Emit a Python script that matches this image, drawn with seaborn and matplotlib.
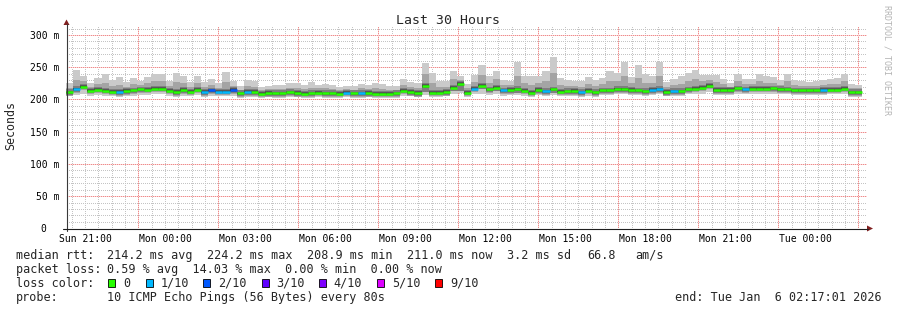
import numpy as np
import pandas as pd
import matplotlib
matplotlib.use("Agg")
import matplotlib.pyplot as plt
import seaborn as sns
from matplotlib.patches import Rectangle, Polygon
from matplotlib.lines import Line2D

# ---------------- data (16-minute bins) ----------------
median_ms = [211, 216, 219.5, 213.5, 215, 213.5, 212, 211.5, 213, 214,
             215.5, 215, 216.5, 216.5, 213.5, 211.5, 214.5, 212, 215, 211.5,
             214, 212, 212, 214.5, 209.5, 211.5, 211.5, 209, 210, 209.5,
             209.5, 211, 210, 209, 209.5, 210.5, 209.5, 209.5, 209, 210.5,
             209.5, 209.5, 210, 209, 209, 209, 209.5, 213.5, 211.5, 210,
             221, 210.5, 210.5, 211.5, 218.5, 224, 210.5, 216.5, 221.5, 215.5,
             218.5, 214, 214.5, 216, 213.5, 210.5, 214.5, 212.5, 215.5, 212,
             212.5, 213, 211, 213.5, 211, 214, 214, 216, 216, 214.5,
             214, 212.5, 214.5, 216, 211.5, 212.5, 212.5, 215.5, 216.5, 218,
             221, 214.5, 214.5, 214.5, 217, 215.5, 216.5, 216.5, 216.5, 217,
             216, 215.5, 214, 214, 214, 214, 214.5, 215, 215, 216.5,
             211, 211]

loss_level = [0, 1, 0, 0, 0, 0, 0, 1, 0, 0,
              0, 0, 0, 0, 0, 0, 0, 0, 0, 1,
              2, 1, 1, 2, 0, 1, 0, 0, 0, 0,
              0, 0, 0, 0, 0, 0, 0, 0, 0, 1,
              0, 1, 0, 0, 0, 0, 0, 0, 0, 0,
              0, 0, 0, 0, 0, 0, 0, 1, 0, 0,
              0, 1, 0, 0, 0, 0, 0, 1, 0, 0,
              0, 0, 1, 0, 0, 0, 0, 0, 0, 0,
              0, 0, 1, 1, 0, 1, 0, 0, 0, 0,
              0, 0, 0, 0, 0, 1, 0, 0, 0, 0,
              0, 0, 0, 0, 0, 0, 1, 0, 0, 0,
              0, 0]

smoke_max = [225, 245.5, 237, 226, 233, 239, 230, 235, 227.5, 234,
             229, 235, 239, 239, 228.5, 241.5, 236, 227.5, 237, 226.5,
             232, 225, 242.5, 228.5, 221, 230, 229, 219, 221, 223,
             223, 225, 225.5, 223, 227, 223, 224, 222, 219, 221,
             221, 224, 222, 225, 224, 221, 221, 231.5, 227.5, 226,
             257, 241.5, 229, 229, 244.5, 236, 224, 238.5, 254, 236,
             244, 230, 229, 258.5, 236, 236, 236, 244.5, 266, 234,
             230, 229, 228, 235, 230, 233, 244, 240.5, 258, 235,
             253, 240, 236, 258, 227.5, 231, 236, 241.5, 245.5, 238.5,
             238.5, 238.5, 232.5, 225, 239, 232, 232, 240, 236, 235,
             230, 240, 230, 228.5, 227, 228, 230, 232.5, 233, 240,
             224, 223]

smoke_q2 = [218, 230.5, 228, 220, 224, 226, 221, 223, 220, 224,
            222, 225, 228, 228, 221, 226.5, 225, 220, 226, 219,
            223, 218.5, 227, 221.5, 215, 221, 220, 214, 215.5, 216,
            216, 218, 218, 216, 218, 217, 217, 216, 214, 216,
            215, 217, 216, 217, 216.5, 215, 215, 222.5, 219.5, 218,
            239, 226, 220, 220, 231.5, 230, 217, 227.5, 238, 226,
            231, 222, 222, 237, 225, 223, 225, 228.5, 241, 223,
            221, 221, 219.5, 224, 220.5, 223.5, 229, 228, 237, 225,
            233.5, 226, 225, 237, 219.5, 222, 224, 228.5, 231, 228,
            230, 226.5, 223.5, 220, 228, 224, 224, 228, 226, 226,
            223, 228, 222, 221, 220.5, 221, 222, 224, 224, 228,
            217.5, 217]

smoke_min = [205, 207, 209, 206, 207, 206, 205, 204, 206, 206,
             207, 207, 208, 208, 206, 204, 206, 205, 207, 204,
             206, 205, 205, 206, 203, 204, 204, 203, 204, 203,
             203, 204, 204, 203, 203, 204, 203, 203, 203, 204,
             203, 203, 204, 203, 203, 203, 203, 206, 205, 204,
             207, 204, 204, 205, 208, 210, 204, 208, 209, 207,
             208, 206, 207, 207, 206, 204, 207, 205, 207, 205,
             205, 206, 204, 206, 204, 207, 207, 208, 208, 207,
             207, 205, 207, 208, 205, 205, 205, 208, 208, 209,
             211, 207, 207, 207, 209, 208, 208, 208, 208, 209,
             208, 208, 207, 207, 207, 207, 207, 208, 208, 208,
             204, 204]

# depth (ms below the median) of the dark inner smoke
dark_depth = [4] * 50 + [9, 4, 4, 4, 6, 11, 4, 4, 5, 4,
                         5, 4, 4, 6, 4, 4, 4, 4, 5, 4] + [4] * 42

loss_labels = ["0", "1/10", "2/10", "3/10", "4/10", "5/10", "9/10"]
loss_colors = ["#26ff00", "#00b8ff", "#0059ff", "#5e00ff", "#7e00ff", "#dd00ff", "#ff0000"]

x_labels = ["Sun 21:00", "Mon 00:00", "Mon 03:00", "Mon 06:00", "Mon 09:00",
            "Mon 12:00", "Mon 15:00", "Mon 18:00", "Mon 21:00", "Tue 00:00"]
y_ticks = [0, 50, 100, 150, 200, 250, 300]
y_labels = ["0  ", "50 m", "100 m", "150 m", "200 m", "250 m", "300 m"]

# ---------------- layout helpers ----------------
W, H = 897, 310
X0, X1 = 66, 866          # plot area, pixels
Y0, YTOP = 228.3, 26.0    # y pixel of 0 ms, top of plot
YMAX = 314.0
start = pd.Timestamp("2026-01-04 20:17:01")
bin_h = 960 / 3600.0
n = len(median_ms)

def hours(ts):
    return (pd.Timestamp(ts) - start).total_seconds() / 3600.0

def fx(px):
    return px / W

def fy(py):
    return 1 - py / H

sns.set_theme(style="white")
plt.rcParams["font.family"] = ["DejaVu Sans Mono", "DejaVu Sans"]

fig = plt.figure(figsize=(W / 100, H / 100), dpi=100)
fig.patch.set_facecolor("white")
ax = fig.add_axes([fx(X0), fy(Y0), (X1 - X0) / W, (Y0 - YTOP) / H])
ax.patch.set_visible(False)
ax.set_xlim(0, 30)
ax.set_ylim(0, YMAX)
for s in ax.spines.values():
    s.set_visible(False)

# ---------------- grid: 1px dotted lines rendered as a pixel layer ----------------
px_per_h = (X1 - X0) / 30.0
px_per_ms = (Y0 - YTOP) / YMAX
grid = np.zeros((H, W, 4), dtype=np.uint8)
minor_col = np.array([196, 196, 196, 255], dtype=np.uint8)
major_col = np.array([238, 140, 140, 255], dtype=np.uint8)
major_gap = np.array([250, 214, 214, 255], dtype=np.uint8)

def vline(h, col, gap=None):
    xp = int(round(X0 + h * px_per_h))
    for i, yp in enumerate(range(int(YTOP) + 1, int(Y0))):
        if i % 2 == 0:
            grid[yp, xp] = col
        elif gap is not None:
            grid[yp, xp] = gap

def hline(v, col, gap=None):
    yp = int(round(Y0 - v * px_per_ms))
    for i, xp in enumerate(range(X0 + 1, X1 + 1)):
        if i % 2 == 0:
            grid[yp, xp] = col
        elif gap is not None:
            grid[yp, xp] = gap

for h in np.arange(hours("2026-01-04 20:30:00"), 30, 0.5):
    vline(h, minor_col)
for v in range(10, int(YMAX), 10):
    hline(v, minor_col)
for h in np.arange(hours("2026-01-04 23:00:00"), 30, 3.0):
    vline(h, major_col, major_gap)
for v in range(50, int(YMAX), 50):
    hline(v, major_col, major_gap)
fig.figimage(grid, xo=0, yo=0, origin="upper", zorder=-1)

# ---------------- smoke ----------------
med = np.array(median_ms, dtype=float)
xl = np.arange(n) * bin_h
xs = np.append(xl, xl[-1] + bin_h)

def ext(a):
    a = np.asarray(a, dtype=float)
    return np.append(a, a[-1])

depth = np.array(dark_depth, dtype=float)
layers = [
    (smoke_min, smoke_max, "#cacaca"),
    (med - 5.5, smoke_q2, "#a4a4a4"),
    (med - depth, med + 4.5, "#7e7e7e"),
    (med - 2.5, med + 2.5, "#585858"),
    (med - 1.0, med + 1.0, "#323232"),
]
for lo, hi, col in layers:
    ax.fill_between(xs, ext(lo), ext(hi), step="post", color=col, lw=0, zorder=2)

# ---------------- median, coloured by loss (seaborn) ----------------
rows = []
for k in range(n):
    lab = loss_labels[loss_level[k]]
    rows.append({"unit": k, "t": xl[k], "ms": med[k], "loss": lab})
    rows.append({"unit": k, "t": xl[k] + bin_h, "ms": med[k], "loss": lab})
df = pd.DataFrame(rows)
pal = dict(zip(loss_labels, loss_colors))
sns.lineplot(data=df, x="t", y="ms", hue="loss", units="unit", estimator=None,
             palette=pal, lw=1.8, legend=False, ax=ax, zorder=3,
             solid_capstyle="butt")
ax.set_xlabel("")
ax.set_ylabel("")

# ---------------- ticks ----------------
label_pos = [hours("2026-01-04 21:00:00") + 3 * i for i in range(len(x_labels))]
ax.set_xticks(label_pos)
ax.set_xticklabels(x_labels, fontsize=7, family="DejaVu Sans Mono")
ax.tick_params(axis="x", length=0, pad=4.0, colors="black")
ax.set_yticks(y_ticks)
ax.set_yticklabels(y_labels, fontsize=7, family="DejaVu Sans Mono")
ax.tick_params(axis="y", length=2, width=0.72, pad=3.0, colors="black",
               direction="out")
ax.grid(False)

# ---------------- axes lines + arrows ----------------
fig.add_artist(Line2D([fx(66.5), fx(66.5)], [fy(231), fy(24)], color="#3a3a3a", lw=0.8))
fig.add_artist(Line2D([fx(63), fx(868)], [fy(228.5), fy(228.5)], color="#1f1f1f", lw=0.8))
fig.add_artist(Polygon([[fx(63.5), fy(25)], [fx(69.5), fy(25)], [fx(66.5), fy(19.5)]],
                       closed=True, color="#801f1f", lw=0))
fig.add_artist(Polygon([[fx(867), fy(225.5)], [fx(867), fy(231.5)], [fx(873), fy(228.5)]],
                       closed=True, color="#801f1f", lw=0))

# ---------------- texts ----------------
mono = "DejaVu Sans Mono"
fig.text(fx(447.5), fy(23.5), "Last 30 Hours", ha="center", va="baseline",
         fontsize=9.5, family=mono)
fig.text(fx(11), fy(126), "Seconds", ha="center", va="center", rotation=90,
         fontsize=8.4, family=mono)
fig.text(fx(887), fy(5), "RRDTOOL / TOBI OETIKER", ha="center", va="top",
         rotation=270, fontsize=6.0, family=mono, color="#b4b4b4")

fs = 8.5
row1 = [(16, "median rtt:"), (107, "214.2 ms avg"), (207, "224.2 ms max"),
        (307, "208.9 ms min"), (407, "211.0 ms now"), (507, "3.2 ms sd"),
        (587, "66.8"), (635, "am/s")]
for xp, s in row1:
    fig.text(fx(xp), fy(259), s, ha="left", va="baseline", fontsize=fs, family=mono)

fig.text(fx(16), fy(273), "packet loss:", ha="left", va="baseline", fontsize=fs, family=mono)
fig.text(fx(107), fy(273), "0.59 % avg  14.03 % max  0.00 % min  0.00 % now",
         ha="left", va="baseline", fontsize=fs, family=mono)

fig.text(fx(16), fy(287), "loss color:", ha="left", va="baseline", fontsize=fs, family=mono)
sq_x = [108, 146, 203, 262, 319, 377, 435]
lab_x = [123, 161, 218, 276, 333, 392, 450]
for sx, lx, lab, col in zip(sq_x, lab_x, loss_labels, loss_colors):
    fig.add_artist(Rectangle((fx(sx), fy(287)), 7 / W, 8 / H, facecolor=col,
                             edgecolor="black", lw=0.6))
    fig.text(fx(lx), fy(287), lab, ha="left", va="baseline", fontsize=fs, family=mono)

fig.text(fx(16), fy(301), "probe:", ha="left", va="baseline", fontsize=fs, family=mono)
fig.text(fx(107), fy(301), "10 ICMP Echo Pings (56 Bytes) every 80s",
         ha="left", va="baseline", fontsize=fs, family=mono)
fig.text(fx(882), fy(301), "end: Tue Jan  6 02:17:01 2026",
         ha="right", va="baseline", fontsize=fs, family=mono)

fig.savefig("out.png", dpi=100, facecolor="white")
